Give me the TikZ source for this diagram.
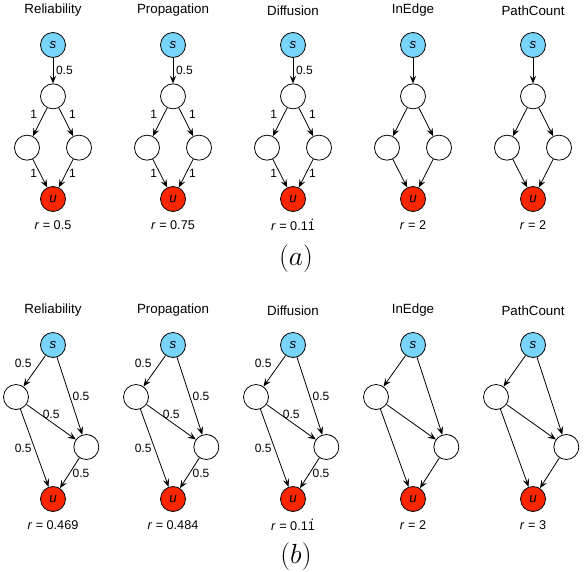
\documentclass[tikz,border=0pt]{standalone}
\usepackage[no-math]{fontspec}
\setmainfont{Liberation Sans}
\usetikzlibrary{shapes,arrows.meta,positioning}
\definecolor{srcblue}{RGB}{120,212,250}
\definecolor{dstred}{RGB}{250,38,0}
\tikzstyle{vertex} = [circle, draw, fill=white, line width=0.6pt,
    minimum size=18.75pt, inner sep=0pt]
\tikzstyle{src} = [vertex, fill=srcblue, font=\itshape\fontsize{10}{12}\selectfont]
\tikzstyle{dst} = [vertex, fill=dstred, font=\itshape\fontsize{10}{12}\selectfont]
\tikzstyle{line} = [draw, line width=0.6pt,
    -{Stealth[length=6pt, width=4.8pt, inset=2.4pt]}]
\tikzstyle{lbl} = [font=\fontsize{9}{10}\selectfont, inner sep=2pt]
\tikzstyle{heading} = [font=\fontsize{10}{12}\selectfont]
\tikzstyle{score} = [font=\fontsize{9.5}{11}\selectfont]
\newcommand{\dotone}{\hbox{1\llap{\raisebox{0.8em}{.}\kern0.06em}}}

\begin{document}
\begin{tikzpicture}[on grid, node distance=38.5pt and 19.5pt]
    \useasboundingbox (0,0) rectangle (438pt,-428.25pt);

    % Place source nodes, row (a)
    \node [src] (a1s) at (39.75pt,-33.75pt) {s};
    \node [src, right=90pt of a1s] (a2s) {s};
    \node [src, right=90pt of a2s] (a3s) {s};
    \node [src, right=90pt of a3s] (a4s) {s};
    \node [src, right=90pt of a4s] (a5s) {s};

    % Reliability
    \node [heading, above=26pt of a1s] (a1name) {Reliability};
    \node [vertex, below=of a1s] (a1t) {};
    \node [vertex, below left=of a1t] (a1l) {};
    \node [vertex, below right=of a1t] (a1r) {};
    \node [dst, below right=of a1l] (a1u) {u};
    \node [score, below=19.5pt of a1u] (a1val) {\textit{r} = 0.5};
    \path [line] (a1s) -- node [lbl, right] {0.5} (a1t);
    \path [line] (a1t) -- node [lbl, above left] {1} (a1l);
    \path [line] (a1t) -- node [lbl, above right] {1} (a1r);
    \path [line] (a1l) -- node [lbl, left] {1} (a1u);
    \path [line] (a1r) -- node [lbl, right] {1} (a1u);

    % Propagation
    \node [heading, above=26pt of a2s] (a2name) {Propagation};
    \node [vertex, below=of a2s] (a2t) {};
    \node [vertex, below left=of a2t] (a2l) {};
    \node [vertex, below right=of a2t] (a2r) {};
    \node [dst, below right=of a2l] (a2u) {u};
    \node [score, below=19.5pt of a2u] (a2val) {\textit{r} = 0.75};
    \path [line] (a2s) -- node [lbl, right] {0.5} (a2t);
    \path [line] (a2t) -- node [lbl, above left] {1} (a2l);
    \path [line] (a2t) -- node [lbl, above right] {1} (a2r);
    \path [line] (a2l) -- node [lbl, left] {1} (a2u);
    \path [line] (a2r) -- node [lbl, right] {1} (a2u);

    % Diffusion
    \node [heading, above=26pt of a3s] (a3name) {Diffusion};
    \node [vertex, below=of a3s] (a3t) {};
    \node [vertex, below left=of a3t] (a3l) {};
    \node [vertex, below right=of a3t] (a3r) {};
    \node [dst, below right=of a3l] (a3u) {u};
    \node [score, below=19.5pt of a3u] (a3val) {\textit{r} = 0.1\dotone};
    \path [line] (a3s) -- node [lbl, right] {0.5} (a3t);
    \path [line] (a3t) -- node [lbl, above left] {1} (a3l);
    \path [line] (a3t) -- node [lbl, above right] {1} (a3r);
    \path [line] (a3l) -- node [lbl, left] {1} (a3u);
    \path [line] (a3r) -- node [lbl, right] {1} (a3u);

    % InEdge
    \node [heading, above=26pt of a4s] (a4name) {InEdge};
    \node [vertex, below=of a4s] (a4t) {};
    \node [vertex, below left=of a4t] (a4l) {};
    \node [vertex, below right=of a4t] (a4r) {};
    \node [dst, below right=of a4l] (a4u) {u};
    \node [score, below=19.5pt of a4u] (a4val) {\textit{r} = 2};
    \path [line] (a4s) -- (a4t);
    \path [line] (a4t) -- (a4l);
    \path [line] (a4t) -- (a4r);
    \path [line] (a4l) -- (a4u);
    \path [line] (a4r) -- (a4u);

    % PathCount
    \node [heading, above=26pt of a5s] (a5name) {PathCount};
    \node [vertex, below=of a5s] (a5t) {};
    \node [vertex, below left=of a5t] (a5l) {};
    \node [vertex, below right=of a5t] (a5r) {};
    \node [dst, below right=of a5l] (a5u) {u};
    \node [score, below=19.5pt of a5u] (a5val) {\textit{r} = 2};
    \path [line] (a5s) -- (a5t);
    \path [line] (a5t) -- (a5l);
    \path [line] (a5t) -- (a5r);
    \path [line] (a5l) -- (a5u);
    \path [line] (a5r) -- (a5u);

    \node [font=\fontsize{20}{24}\selectfont] (capa) at (222pt,-194pt) {$(a)$};

    % Place source nodes, row (b)
    \node [src] (b1s) at (39.75pt,-258.75pt) {s};
    \node [src, right=90pt of b1s] (b2s) {s};
    \node [src, right=90pt of b2s] (b3s) {s};
    \node [src, right=90pt of b3s] (b4s) {s};
    \node [src, right=90pt of b4s] (b5s) {s};

    % Reliability
    \node [heading, above=26pt of b1s] (b1name) {Reliability};
    \node [vertex, below left=39pt and 27.75pt of b1s] (b1l) {};
    \node [vertex, below right=76.5pt and 25pt of b1s] (b1r) {};
    \node [dst, below=115.5pt of b1s] (b1u) {u};
    \node [score, below=19.5pt of b1u] (b1val) {\textit{r} = 0.469};
    \path [line] (b1s) -- node [lbl, above left] {0.5} (b1l);
    \path [line] (b1s) -- node [lbl, right] {0.5} (b1r);
    \path [line] (b1l) -- node [lbl, above] {0.5} (b1r);
    \path [line] (b1l) -- node [lbl, left] {0.5} (b1u);
    \path [line] (b1r) -- node [lbl, right] {0.5} (b1u);

    % Propagation
    \node [heading, above=26pt of b2s] (b2name) {Propagation};
    \node [vertex, below left=39pt and 27.75pt of b2s] (b2l) {};
    \node [vertex, below right=76.5pt and 25pt of b2s] (b2r) {};
    \node [dst, below=115.5pt of b2s] (b2u) {u};
    \node [score, below=19.5pt of b2u] (b2val) {\textit{r} = 0.484};
    \path [line] (b2s) -- node [lbl, above left] {0.5} (b2l);
    \path [line] (b2s) -- node [lbl, right] {0.5} (b2r);
    \path [line] (b2l) -- node [lbl, above] {0.5} (b2r);
    \path [line] (b2l) -- node [lbl, left] {0.5} (b2u);
    \path [line] (b2r) -- node [lbl, right] {0.5} (b2u);

    % Diffusion
    \node [heading, above=26pt of b3s] (b3name) {Diffusion};
    \node [vertex, below left=39pt and 27.75pt of b3s] (b3l) {};
    \node [vertex, below right=76.5pt and 25pt of b3s] (b3r) {};
    \node [dst, below=115.5pt of b3s] (b3u) {u};
    \node [score, below=19.5pt of b3u] (b3val) {\textit{r} = 0.1\dotone};
    \path [line] (b3s) -- node [lbl, above left] {0.5} (b3l);
    \path [line] (b3s) -- node [lbl, right] {0.5} (b3r);
    \path [line] (b3l) -- node [lbl, above] {0.5} (b3r);
    \path [line] (b3l) -- node [lbl, left] {0.5} (b3u);
    \path [line] (b3r) -- node [lbl, right] {0.5} (b3u);

    % InEdge
    \node [heading, above=26pt of b4s] (b4name) {InEdge};
    \node [vertex, below left=39pt and 27.75pt of b4s] (b4l) {};
    \node [vertex, below right=76.5pt and 25pt of b4s] (b4r) {};
    \node [dst, below=115.5pt of b4s] (b4u) {u};
    \node [score, below=19.5pt of b4u] (b4val) {\textit{r} = 2};
    \path [line] (b4s) -- (b4l);
    \path [line] (b4s) -- (b4r);
    \path [line] (b4l) -- (b4r);
    \path [line] (b4l) -- (b4u);
    \path [line] (b4r) -- (b4u);

    % PathCount
    \node [heading, above=26pt of b5s] (b5name) {PathCount};
    \node [vertex, below left=39pt and 27.75pt of b5s] (b5l) {};
    \node [vertex, below right=76.5pt and 25pt of b5s] (b5r) {};
    \node [dst, below=115.5pt of b5s] (b5u) {u};
    \node [score, below=19.5pt of b5u] (b5val) {\textit{r} = 3};
    \path [line] (b5s) -- (b5l);
    \path [line] (b5s) -- (b5r);
    \path [line] (b5l) -- (b5r);
    \path [line] (b5l) -- (b5u);
    \path [line] (b5r) -- (b5u);

    \node [font=\fontsize{20}{24}\selectfont] (capb) at (222pt,-417.75pt) {$(b)$};
\end{tikzpicture}
\end{document}
